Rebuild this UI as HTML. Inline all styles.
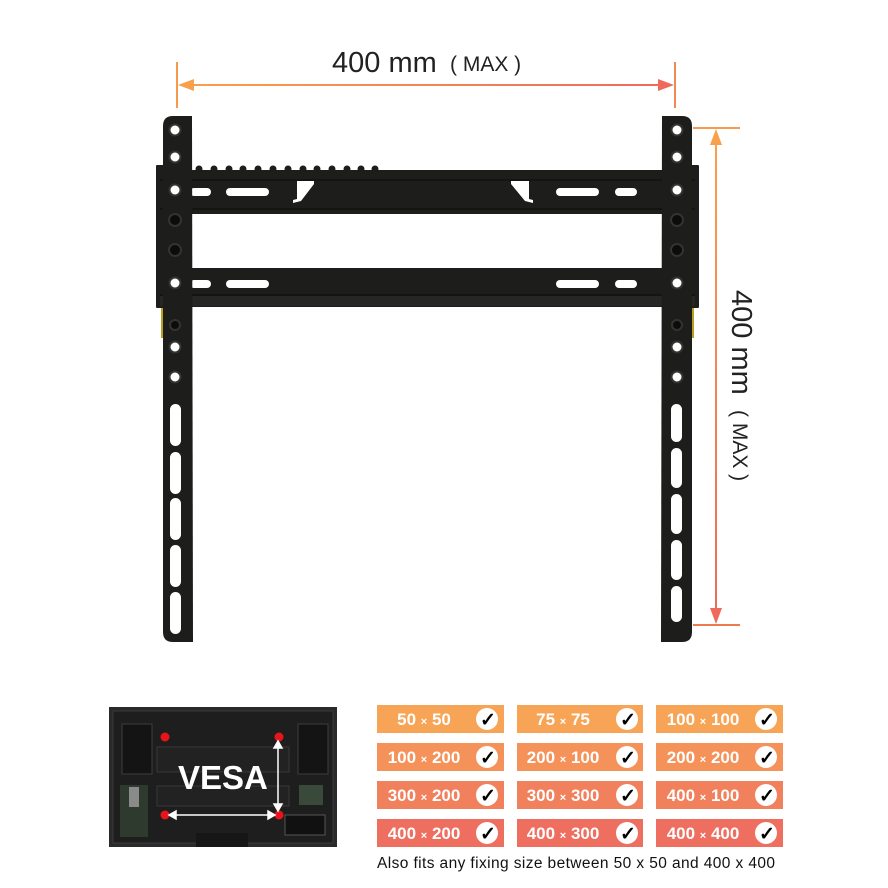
<!DOCTYPE html>
<html><head><meta charset="utf-8"><style>
body{margin:0;background:#fff;width:888px;height:888px;overflow:hidden}
svg{display:block}
</style></head><body>
<svg width="888" height="888" viewBox="0 0 888 888" xmlns="http://www.w3.org/2000/svg" font-family="Liberation Sans, sans-serif">
<defs>
<linearGradient id="gh" x1="0" x2="1" y1="0" y2="0"><stop offset="0" stop-color="#f8a04c"/><stop offset="1" stop-color="#ee6a5a"/></linearGradient>
<linearGradient id="gv" x1="0" x2="0" y1="0" y2="1"><stop offset="0" stop-color="#f8a04c"/><stop offset="1" stop-color="#ee6a5a"/></linearGradient>
</defs>
<line x1="177" y1="62" x2="177" y2="108" stroke="#f79a4e" stroke-width="2"/>
<line x1="675" y1="62" x2="675" y2="108" stroke="#f08a50" stroke-width="2"/>
<rect x="185" y="84" width="482" height="2" fill="url(#gh)"/>
<polygon points="178,85 194,79 194,91" fill="#f8a04c"/>
<polygon points="674,85 658,79 658,91" fill="#ee6a5a"/>
<text x="332" y="72" font-size="29" fill="#222">400 mm</text>
<text x="450" y="71" font-size="21" fill="#222">( MAX )</text>
<line x1="693" y1="128" x2="740" y2="128" stroke="#f79a4e" stroke-width="2"/>
<line x1="693" y1="625" x2="740" y2="625" stroke="#f07a50" stroke-width="2"/>
<rect x="715" y="136" width="2" height="481" fill="url(#gv)"/>
<polygon points="716,129 710,145 722,145" fill="#f8a04c"/>
<polygon points="716,624 710,608 722,608" fill="#ee6a5a"/>
<g transform="translate(732,290) rotate(90)">
<text x="0" y="0" font-size="29" fill="#222">400 mm</text>
<text x="120" y="-1" font-size="21" fill="#222">( MAX )</text>
</g>
<g fill="#1d1d1b">
<rect x="156" y="165" width="8" height="143" rx="1"/>
<rect x="691" y="165" width="8" height="143" rx="1"/>
<rect x="160" y="170" width="535" height="44"/>
<rect x="160" y="268" width="535" height="39"/>
<circle cx="199" cy="169" r="3.5"/><circle cx="214" cy="169" r="3.5"/><circle cx="229" cy="169" r="3.5"/><circle cx="243" cy="169" r="3.5"/><circle cx="258" cy="169" r="3.5"/><circle cx="273" cy="169" r="3.5"/><circle cx="288" cy="169" r="3.5"/><circle cx="303" cy="169" r="3.5"/><circle cx="317" cy="169" r="3.5"/><circle cx="332" cy="169" r="3.5"/><circle cx="347" cy="169" r="3.5"/><circle cx="361" cy="169" r="3.5"/><circle cx="375" cy="169" r="3.5"/>
</g>
<line x1="160" y1="180" x2="695" y2="180" stroke="#111" stroke-width="1.5"/>
<line x1="160" y1="209" x2="695" y2="209" stroke="#111" stroke-width="1.5"/>
<line x1="160" y1="295" x2="695" y2="295" stroke="#111" stroke-width="1.5"/>
<rect x="160" y="296" width="535" height="10" fill="#262624"/>
<g fill="#fff">
<rect x="190" y="188" width="21" height="8" rx="4"/><rect x="226" y="188" width="43" height="8" rx="4"/>
<rect x="556" y="188" width="43" height="8" rx="4"/><rect x="615" y="188" width="22" height="8" rx="4"/>
<rect x="190" y="280" width="21" height="8" rx="4"/><rect x="226" y="280" width="43" height="8" rx="4"/>
<rect x="556" y="280" width="43" height="8" rx="4"/><rect x="615" y="280" width="22" height="8" rx="4"/>
<polygon points="297,181 314,181 314,184 301,201 293,203 293,200 297,199"/>
<polygon points="529,181 511,181 511,184 525,201 533,203 533,200 529,199"/>
</g>
<path d="M163,126 Q163,116 173,116 L192,116 L193,642 L173,642 Q163,642 163,632 Z" fill="#1d1d1b"/>
<path d="M692,126 Q692,116 682,116 L662,116 L661,642 L682,642 Q692,642 692,632 Z" fill="#1d1d1b"/>
<rect x="161" y="308" width="2" height="30" fill="#b8a020"/>
<rect x="692" y="308" width="2" height="30" fill="#b8a020"/>
<g fill="#fff" stroke="#333" stroke-width="2">
<circle cx="175" cy="130" r="5.5"/><circle cx="175" cy="157" r="5.5"/><circle cx="175" cy="190" r="5.5"/><circle cx="175" cy="283" r="5.5"/><circle cx="175" cy="347" r="5.5"/><circle cx="175" cy="377" r="5.5"/>
<circle cx="677" cy="130" r="5.5"/><circle cx="677" cy="157" r="5.5"/><circle cx="677" cy="190" r="5.5"/><circle cx="677" cy="283" r="5.5"/><circle cx="677" cy="347" r="5.5"/><circle cx="677" cy="377" r="5.5"/>
</g>
<g fill="#0c0c0c" stroke="#333" stroke-width="2">
<circle cx="175" cy="220" r="6"/><circle cx="175" cy="250" r="6"/><circle cx="677" cy="220" r="6"/><circle cx="677" cy="250" r="6"/>
<circle cx="175" cy="325" r="5"/><circle cx="677" cy="325" r="5"/>
</g>
<g fill="#fff">
<rect x="170" y="404" width="11" height="42" rx="5.5"/><rect x="170" y="452" width="11" height="42" rx="5.5"/><rect x="170" y="498" width="11" height="42" rx="5.5"/><rect x="170" y="545" width="11" height="42" rx="5.5"/><rect x="170" y="592" width="11" height="42" rx="5.5"/>
<rect x="671" y="404" width="11" height="38" rx="5.5"/><rect x="671" y="448" width="11" height="40" rx="5.5"/><rect x="671" y="494" width="11" height="40" rx="5.5"/><rect x="671" y="540" width="11" height="40" rx="5.5"/><rect x="671" y="586" width="11" height="36" rx="5.5"/>
</g>
<rect x="109" y="707" width="228" height="140" fill="#2a2a2a"/>
<rect x="113" y="711" width="220" height="132" fill="#1e1e1e" stroke="#3a3a3a"/>
<rect x="122" y="724" width="30" height="50" fill="#141414" stroke="#3d3d3d"/>
<rect x="298" y="724" width="30" height="50" fill="#141414" stroke="#3d3d3d"/>
<rect x="157" y="747" width="132" height="25" fill="#222" stroke="#383838"/>
<rect x="157" y="786" width="132" height="20" fill="#222" stroke="#383838"/>
<rect x="120" y="785" width="28" height="52" fill="#2d3a2d"/>
<rect x="129" y="787" width="10" height="20" fill="#8a8a8a"/>
<rect x="299" y="785" width="24" height="20" fill="#3a4a3a"/>
<rect x="285" y="815" width="40" height="20" fill="#111" stroke="#555"/>
<rect x="196" y="833" width="52" height="14" fill="#161616"/>
<g fill="#e8141c"><circle cx="165" cy="737" r="4.5"/><circle cx="279" cy="737" r="4.5"/><circle cx="165" cy="815" r="4.5"/><circle cx="279" cy="815" r="4.5"/></g>
<g stroke="#fff" stroke-width="1.5" fill="#fff">
<line x1="172" y1="815" x2="272" y2="815"/><polygon points="169,815 176,811 176,819"/><polygon points="275,815 268,811 268,819"/>
<line x1="278" y1="744" x2="278" y2="808"/><polygon points="278,741 274,748 282,748"/><polygon points="278,811 274,804 282,804"/>
</g>
<text x="178" y="789" font-size="33" font-weight="bold" fill="#fff">VESA</text>
<g fill="#f8a456"><rect x="377" y="705" width="127" height="28"/><rect x="517" y="705" width="126" height="28"/><rect x="656" y="705" width="127" height="28"/></g>
<g fill="#f5925a"><rect x="377" y="743" width="127" height="28"/><rect x="517" y="743" width="126" height="28"/><rect x="656" y="743" width="127" height="28"/></g>
<g fill="#f1805d"><rect x="377" y="781" width="127" height="28"/><rect x="517" y="781" width="126" height="28"/><rect x="656" y="781" width="127" height="28"/></g>
<g fill="#ee6f60"><rect x="377" y="819" width="127" height="28"/><rect x="517" y="819" width="126" height="28"/><rect x="656" y="819" width="127" height="28"/></g>
<g font-size="17" font-weight="bold" fill="#fff" text-anchor="middle">
<text x="424" y="725">50 <tspan font-size="11">×</tspan> 50</text>
<text x="563" y="725">75 <tspan font-size="11">×</tspan> 75</text>
<text x="703" y="725">100 <tspan font-size="11">×</tspan> 100</text>
<text x="424" y="763">100 <tspan font-size="11">×</tspan> 200</text>
<text x="563" y="763">200 <tspan font-size="11">×</tspan> 100</text>
<text x="703" y="763">200 <tspan font-size="11">×</tspan> 200</text>
<text x="424" y="801">300 <tspan font-size="11">×</tspan> 200</text>
<text x="563" y="801">300 <tspan font-size="11">×</tspan> 300</text>
<text x="703" y="801">400 <tspan font-size="11">×</tspan> 100</text>
<text x="424" y="839">400 <tspan font-size="11">×</tspan> 200</text>
<text x="563" y="839">400 <tspan font-size="11">×</tspan> 300</text>
<text x="703" y="839">400 <tspan font-size="11">×</tspan> 400</text>
</g>
<g fill="#fff">
<circle cx="487" cy="719" r="11"/><circle cx="627" cy="719" r="11"/><circle cx="766" cy="719" r="11"/>
<circle cx="487" cy="757" r="11"/><circle cx="627" cy="757" r="11"/><circle cx="766" cy="757" r="11"/>
<circle cx="487" cy="795" r="11"/><circle cx="627" cy="795" r="11"/><circle cx="766" cy="795" r="11"/>
<circle cx="487" cy="833" r="11"/><circle cx="627" cy="833" r="11"/><circle cx="766" cy="833" r="11"/>
</g>
<g font-size="19" font-weight="bold" fill="#000" text-anchor="middle">
<text x="488" y="726">✓</text><text x="628" y="726">✓</text><text x="767" y="726">✓</text>
<text x="488" y="764">✓</text><text x="628" y="764">✓</text><text x="767" y="764">✓</text>
<text x="488" y="802">✓</text><text x="628" y="802">✓</text><text x="767" y="802">✓</text>
<text x="488" y="840">✓</text><text x="628" y="840">✓</text><text x="767" y="840">✓</text>
</g>
<text x="377" y="868" font-size="15.5" fill="#111" textLength="398">Also fits any fixing size between 50 x 50 and 400 x 400</text>
</svg>
</body></html>
